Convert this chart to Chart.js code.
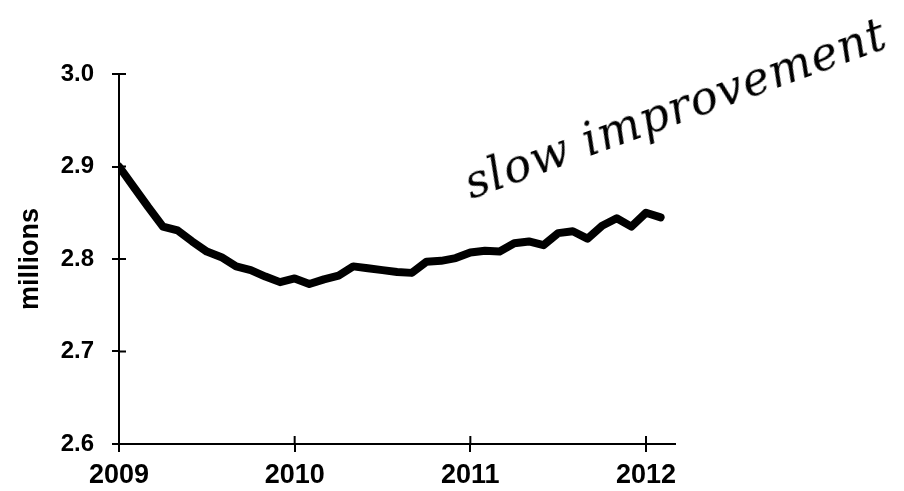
<!DOCTYPE html>
<html>
    <head>
        <title>millions</title>
        <meta charset="UTF-8" />
        <script src="https://cdn.jsdelivr.net/npm/chart.js"></script>
        <style>
            body { margin: 0; background: #fff; }
            .wrap { position: relative; width: 904px; height: 491px; overflow: hidden; }
            .note {
                position: absolute; left: 675px; top: 108px;
                transform: translate(-50%, -50%) rotate(-20deg);
                font-family: "DejaVu Serif", serif; font-style: italic;
                font-size: 46px; color: #000; white-space: nowrap;
                letter-spacing: 1px;
            }
        </style>
    </head>
    <body>
        <div class="wrap">
            <canvas id="myChart" width="904" height="491"></canvas>
            <div class="note">slow improvement</div>
        </div>
        <script>
            // 月次データ 2009年1月から
            const startYear = 2009;
            const values = [2.900, 2.878, 2.856, 2.835, 2.831, 2.819, 2.808, 2.802, 2.792, 2.788,
                            2.781, 2.775, 2.779, 2.773, 2.778, 2.782, 2.792, 2.790, 2.788, 2.786,
                            2.785, 2.797, 2.798, 2.801, 2.807, 2.809, 2.808, 2.817, 2.819, 2.815,
                            2.828, 2.830, 2.822, 2.836, 2.844, 2.835, 2.850, 2.845];
            const yearTicks = [2009, 2010, 2011, 2012];
            const yTicks = [2.6, 2.7, 2.8, 2.9, 3.0];
            const yTitle = 'millions';

            var points = values.map(function(v, i) { return {x: startYear + i / 12, y: v}; });
            var font = 'Liberation Sans, Arial, sans-serif';

            // 軸の内側にも目盛りを描く
            var crossTicks = {
                id: 'crossTicks',
                afterDraw: function(chart) {
                    var ctx = chart.ctx, x = chart.scales.x, y = chart.scales.y;
                    ctx.save();
                    ctx.strokeStyle = '#000';
                    ctx.lineWidth = 2;
                    ctx.beginPath();
                    y.ticks.forEach(function(t) {
                        var py = y.getPixelForValue(t.value);
                        ctx.moveTo(x.left, py);
                        ctx.lineTo(x.left + 7, py);
                    });
                    x.ticks.forEach(function(t) {
                        var px = x.getPixelForValue(t.value);
                        ctx.moveTo(px, y.bottom);
                        ctx.lineTo(px, y.bottom - 8);
                    });
                    ctx.stroke();
                    ctx.restore();
                }
            };

            var ctx = document.getElementById('myChart').getContext('2d');
            var myChart = new Chart(ctx, {
                type: 'line',
                data: {
                    datasets: [{
                        data: points,
                        borderColor: '#000',
                        borderWidth: 8,
                        borderCapStyle: 'round',
                        borderJoinStyle: 'round',
                        pointRadius: 0,
                        tension: 0
                    }]
                },
                options: {
                    responsive: false,
                    animation: false,
                    layout: { padding: { top: 74, right: 229, bottom: 0, left: 0 } },
                    plugins: { legend: { display: false }, tooltip: { enabled: false } },
                    scales: {
                        x: {
                            type: 'linear',
                            min: 2009,
                            max: 2012.165,
                            afterFit: function(s) { s.height = 47; },
                            afterBuildTicks: function(s) { s.ticks = yearTicks.map(function(v) { return {value: v}; }); },
                            border: { color: '#000', width: 2 },
                            grid: { drawOnChartArea: false, color: '#000', lineWidth: 2, tickLength: 8 },
                            ticks: {
                                color: '#000', padding: 7, maxRotation: 0,
                                font: { family: font, size: 27, weight: 'bold' },
                                callback: function(v) { return String(v); }
                            }
                        },
                        y: {
                            min: 2.6,
                            max: 3.0,
                            afterFit: function(s) { s.width = 119; },
                            afterBuildTicks: function(s) { s.ticks = yTicks.map(function(v) { return {value: v}; }); },
                            border: { color: '#000', width: 2 },
                            grid: { drawOnChartArea: false, color: '#000', lineWidth: 2, tickLength: 7 },
                            ticks: {
                                color: '#000', padding: 18,
                                font: { family: font, size: 24, weight: 'bold' },
                                callback: function(v) { return v.toFixed(1); }
                            },
                            title: {
                                display: true, text: yTitle, color: '#000',
                                padding: { top: 14, bottom: 0 },
                                font: { family: font, size: 27, weight: 'bold' }
                            }
                        }
                    }
                },
                plugins: [crossTicks]
            });
        </script>
    </body>
</html>
